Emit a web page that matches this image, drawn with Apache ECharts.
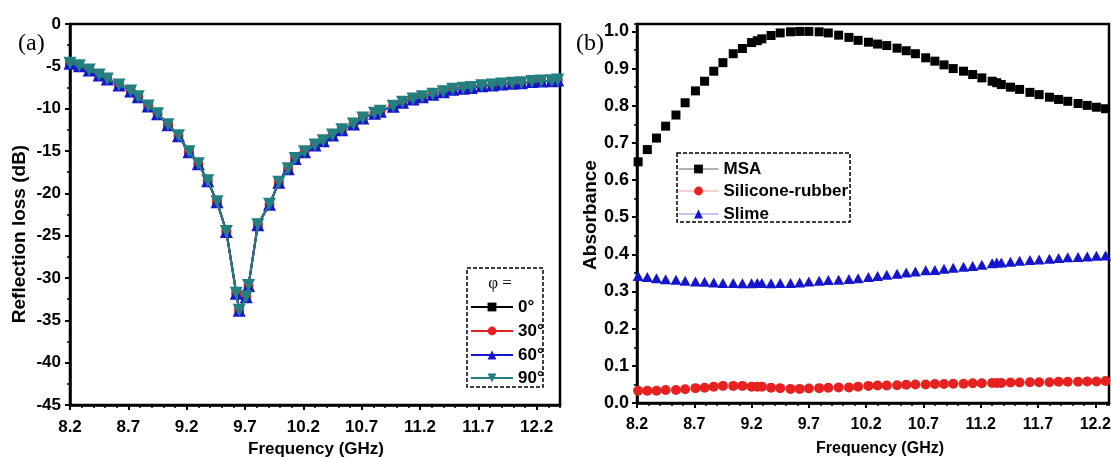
<!DOCTYPE html>
<html>
<head>
<meta charset="utf-8">
<title>Reflection loss and absorbance</title>
<script src="https://cdn.jsdelivr.net/npm/echarts@6.0.0/dist/echarts.min.js"></script>
<style>
    html, body { margin: 0; padding: 0; background: #fff; }
    #chart { width: 1111px; height: 458px; }
</style>
</head>
<body>
<div id="chart"></div>
<script>
// ---- panel (a): reflection loss, the four angle curves lie on top of each other
var freqA = [8.20, 8.28, 8.365, 8.45, 8.52, 8.62, 8.72, 8.785, 8.87, 8.95,
    9.04, 9.13, 9.22, 9.30, 9.38, 9.46, 9.54, 9.625, 9.65, 9.71,
    9.73, 9.81, 9.91, 9.99, 10.07, 10.13, 10.21, 10.30, 10.37, 10.45,
    10.53, 10.63, 10.71, 10.81, 10.86, 10.97, 11.05, 11.14, 11.22, 11.31,
    11.40, 11.48, 11.57, 11.64, 11.73, 11.82, 11.90, 11.99, 12.07, 12.16,
    12.24, 12.33, 12.38];
var rlAll = [-4.65, -4.92, -5.43, -6.02, -6.5, -7.2, -7.9, -8.6, -9.68, -10.6,
    -11.9, -13.2, -15.1, -16.5, -18.5, -21.0, -24.5, -31.8, -33.8, -32.2,
    -30.9, -23.7, -21.3, -18.7, -17.1, -15.9, -15.1, -14.3, -13.8, -13.1,
    -12.5, -11.8, -11.1, -10.55, -10.3, -9.7, -9.25, -8.86, -8.6, -8.3,
    -8.0, -7.7, -7.6, -7.5, -7.3, -7.2, -7.1, -7.0, -6.93, -6.8,
    -6.73, -6.7, -6.6];
var angleNames = ['0°', '30°', '60°', '90°'];
var xTicksA = [8.2, 8.7, 9.2, 9.7, 10.2, 10.7, 11.2, 11.7, 12.2];
var yTicksA = [-45, -40, -35, -30, -25, -20, -15, -10, -5, 0];

// ---- panel (b): absorbance
var freqB = [8.21, 8.29, 8.37, 8.45, 8.54, 8.62, 8.71, 8.79, 8.87, 8.95,
    9.04, 9.12, 9.20, 9.25, 9.29, 9.37, 9.45, 9.54, 9.62, 9.70,
    9.79, 9.87, 9.96, 10.05, 10.13, 10.22, 10.30, 10.38, 10.47, 10.55,
    10.63, 10.72, 10.80, 10.88, 10.96, 11.05, 11.13, 11.21, 11.30, 11.34,
    11.38, 11.46, 11.54, 11.63, 11.71, 11.80, 11.88, 11.96, 12.05, 12.13,
    12.21, 12.29];
var msa = [0.649, 0.682, 0.713, 0.745, 0.775, 0.808, 0.840, 0.866, 0.893, 0.916,
    0.940, 0.954, 0.970, 0.975, 0.980, 0.989, 0.996, 0.999, 1.0, 1.0,
    0.999, 0.996, 0.990, 0.984, 0.976, 0.971, 0.966, 0.962, 0.955, 0.948,
    0.940, 0.929, 0.920, 0.910, 0.900, 0.893, 0.884, 0.875, 0.866, 0.862,
    0.857, 0.850, 0.844, 0.836, 0.830, 0.823, 0.817, 0.812, 0.806, 0.801,
    0.796, 0.792];
var silicone = [0.033, 0.033, 0.033, 0.035, 0.035, 0.037, 0.040, 0.041, 0.044, 0.046,
    0.046, 0.046, 0.044, 0.044, 0.044, 0.041, 0.040, 0.038, 0.038, 0.039,
    0.040, 0.041, 0.042, 0.042, 0.044, 0.046, 0.047, 0.047, 0.048, 0.049,
    0.050, 0.050, 0.051, 0.051, 0.052, 0.052, 0.053, 0.053, 0.054, 0.054,
    0.054, 0.055, 0.055, 0.056, 0.056, 0.056, 0.057, 0.057, 0.057, 0.058,
    0.058, 0.059];
var slime = [0.342, 0.339, 0.336, 0.333, 0.332, 0.329, 0.327, 0.326, 0.324, 0.323,
    0.323, 0.322, 0.322, 0.323, 0.323, 0.322, 0.323, 0.323, 0.324, 0.327,
    0.329, 0.331, 0.332, 0.334, 0.336, 0.339, 0.342, 0.345, 0.348, 0.351,
    0.354, 0.357, 0.358, 0.361, 0.364, 0.367, 0.369, 0.372, 0.376, 0.378,
    0.378, 0.380, 0.383, 0.385, 0.386, 0.388, 0.390, 0.392, 0.393, 0.394,
    0.396, 0.397];
var xTicksB = [8.2, 8.7, 9.2, 9.7, 10.2, 10.7, 11.2, 11.7, 12.2];
var yTicksB = [0, 0.1, 0.2, 0.3, 0.4, 0.5, 0.6, 0.7, 0.8, 0.9, 1.0];

var FONT = '"Liberation Sans", Arial, sans-serif';
var SERIF = '"Liberation Serif", "Times New Roman", serif';

function pairs(xs, ys) {
    return xs.map(function (x, i) { return [x, ys[i]]; });
}

function txt(size) {
    return {color: '#000', fontFamily: FONT, fontWeight: 'bold', fontSize: size};
}

// axis carrying the line, major ticks and labels
function majorAxis(grid, pos, min, max, ticks, fmt, size, margin) {
    return {
        gridIndex: grid, type: 'value', position: pos, min: min, max: max,
        axisLine: {show: true, onZero: false, lineStyle: {color: '#000', width: 2.5}},
        axisTick: {show: true, length: 5, customValues: ticks, lineStyle: {color: '#000', width: 2}},
        axisLabel: Object.assign({customValues: ticks, margin: margin, formatter: fmt}, txt(size)),
        splitLine: {show: false}
    };
}

// invisible axis that only draws the small ticks
function minorAxis(grid, pos, min, max, step) {
    return {
        gridIndex: grid, type: 'value', position: pos, min: min, max: max, interval: step,
        axisLine: {show: false, onZero: false},
        axisTick: {show: true, length: 3, lineStyle: {color: '#000', width: 1.5}},
        axisLabel: {show: false},
        splitLine: {show: false}
    };
}

function oneLegend(name, left, top, w, size, line) {
    var l = {
        data: [name], left: left, top: top, orient: 'vertical', padding: 0,
        itemWidth: w, itemHeight: 11, selectedMode: false,
        textStyle: txt(size)
    };
    if (line) l.lineStyle = line;
    return l;
}

var one = function (v) { return v.toFixed(1); };

var angleColors = ['#000000', '#e8201f', '#1515d0', '#237f80'];
var angleSymbols = ['rect', 'circle', 'triangle', 'triangle'];
var angleSizes = [9, 10, 13, 13];
var angleRotate = [0, 0, 0, 180];

// each angle gets its own z so the later curve covers the earlier one completely
var series = angleNames.map(function (n, i) {
    return {
        name: n, type: 'line', xAxisIndex: 0, yAxisIndex: 0, z: 2 + i,
        data: pairs(freqA, rlAll),
        symbol: angleSymbols[i], symbolSize: angleSizes[i], symbolRotate: angleRotate[i],
        lineStyle: {color: angleColors[i], width: 2},
        itemStyle: {color: angleColors[i]}
    };
});

series.push({
    name: 'MSA', type: 'line', xAxisIndex: 2, yAxisIndex: 2,
    data: pairs(freqB, msa), symbol: 'rect', symbolSize: 9,
    lineStyle: {color: '#000', width: 1, opacity: 0}, itemStyle: {color: '#000'}
});
series.push({
    name: 'Silicone-rubber', type: 'line', xAxisIndex: 2, yAxisIndex: 2,
    data: pairs(freqB, silicone), symbol: 'circle', symbolSize: 10,
    lineStyle: {color: '#e8201f', width: 1, opacity: 0}, itemStyle: {color: '#e8201f'}
});
series.push({
    name: 'Slime', type: 'line', xAxisIndex: 2, yAxisIndex: 2,
    data: pairs(freqB, slime), symbol: 'triangle', symbolSize: [11, 10],
    lineStyle: {color: '#1515d0', width: 1, opacity: 0}, itemStyle: {color: '#1515d0'}
});

var chart = echarts.init(document.getElementById('chart'));

var option = {
    animation: false,
    backgroundColor: '#fff',
    grid: [
        {left: 70, top: 24, width: 490, height: 381, show: true, borderColor: '#000', borderWidth: 2.5,
            containLabel: false, outerBoundsMode: 'none'},
        {left: 637, top: 24, width: 472, height: 379, show: true, borderColor: '#000', borderWidth: 2.5,
            containLabel: false, outerBoundsMode: 'none'}
    ],
    xAxis: [
        majorAxis(0, 'bottom', 8.2, 12.4, xTicksA, one, 17, 14),
        minorAxis(0, 'bottom', 8.2, 12.4, 0.1),
        majorAxis(1, 'bottom', 8.2, 12.32, xTicksB, one, 16, 14),
        minorAxis(1, 'bottom', 8.2, 12.32, 0.1)
    ],
    yAxis: [
        majorAxis(0, 'left', -45, 0, yTicksA, function (v) { return String(v); }, 17, 9),
        minorAxis(0, 'left', -45, 0, 2.5),
        majorAxis(1, 'left', 0, 1.02, yTicksB, one, 18, 8),
        minorAxis(1, 'left', 0, 1.02, 0.05)
    ],
    legend: [
        oneLegend('0°', 470, 298.5, 42, 17),
        oneLegend('30°', 470, 322.5, 42, 17),
        oneLegend('60°', 470, 346.5, 42, 17),
        oneLegend('90°', 470, 369.5, 42, 17),
        oneLegend('MSA', 678, 160.5, 40, 17, {color: '#666', width: 1, opacity: 1}),
        oneLegend('Silicone-rubber', 678, 182.5, 40, 17, {color: '#f2a0a0', width: 1, opacity: 1}),
        oneLegend('Slime', 678, 205.5, 40, 17, {color: '#8c8ce0', width: 1, opacity: 1})
    ],
    graphic: [
        {type: 'rect', z: 50, shape: {x: 467, y: 268, width: 76, height: 119},
            style: {fill: 'none', stroke: '#000', lineWidth: 1.5, lineDash: [4, 2]}},
        {type: 'rect', z: 50, shape: {x: 677, y: 153, width: 173, height: 69},
            style: {fill: 'none', stroke: '#000', lineWidth: 1.5, lineDash: [4, 2]}},
        {type: 'text', z: 50, x: 500, y: 284,
            style: {text: 'φ =', font: '17px ' + SERIF, fill: '#000',
                textAlign: 'center', textVerticalAlign: 'middle', align: 'center', verticalAlign: 'middle'}},
        {type: 'text', z: 50, x: 18, y: 44,
            style: {text: '(a)', font: '24px ' + SERIF, fill: '#000',
                textAlign: 'left', textVerticalAlign: 'middle', align: 'left', verticalAlign: 'middle'}},
        {type: 'text', z: 50, x: 576, y: 44,
            style: {text: '(b)', font: '24px ' + SERIF, fill: '#000',
                textAlign: 'left', textVerticalAlign: 'middle', align: 'left', verticalAlign: 'middle'}},
        {type: 'text', z: 50, x: 316, y: 449,
            style: {text: 'Frequency (GHz)', font: 'bold 17px ' + FONT, fill: '#000',
                textAlign: 'center', textVerticalAlign: 'middle', align: 'center', verticalAlign: 'middle'}},
        {type: 'text', z: 50, x: 880, y: 449,
            style: {text: 'Frequency (GHz)', font: 'bold 16px ' + FONT, fill: '#000',
                textAlign: 'center', textVerticalAlign: 'middle', align: 'center', verticalAlign: 'middle'}},
        {type: 'text', z: 50, x: 20, y: 234, rotation: Math.PI / 2,
            style: {text: 'Reflection loss (dB)', font: 'bold 19px ' + FONT, fill: '#000',
                textAlign: 'center', textVerticalAlign: 'middle', align: 'center', verticalAlign: 'middle'}},
        {type: 'text', z: 50, x: 591, y: 215, rotation: Math.PI / 2,
            style: {text: 'Absorbance', font: 'bold 19px ' + FONT, fill: '#000',
                textAlign: 'center', textVerticalAlign: 'middle', align: 'center', verticalAlign: 'middle'}}
    ],
    series: series
};

chart.setOption(option);
</script>
</body>
</html>
